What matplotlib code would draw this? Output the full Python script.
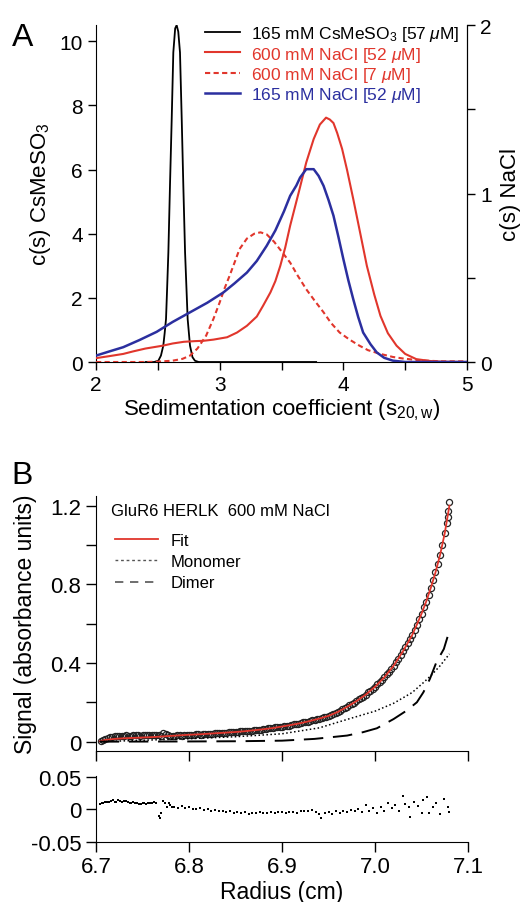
import matplotlib
matplotlib.use('Agg')
import matplotlib.pyplot as plt
from matplotlib.ticker import MultipleLocator, FixedLocator
from matplotlib.lines import Line2D

plt.rcParams['font.family'] = ['Liberation Sans', 'DejaVu Sans']
plt.rcParams['mathtext.fontset'] = 'custom'
plt.rcParams['mathtext.rm'] = 'Liberation Sans'
plt.rcParams['mathtext.it'] = 'Liberation Sans:italic'
plt.rcParams['axes.unicode_minus'] = False

# ---------------- Panel A data ----------------
# c(s) CsMeSO3 (left axis)
cs_s = [2.40, 2.47, 2.504, 2.525, 2.544, 2.555, 2.566, 2.575, 2.585, 2.598, 2.612, 2.625,
        2.64, 2.652, 2.665, 2.679, 2.693, 2.706, 2.72, 2.741, 2.76, 2.78, 2.80, 2.83, 3.0,
        3.3, 3.6, 3.78]
cs_c = [0.0, 0.0, 0.04, 0.2, 0.51, 0.9, 1.34, 2.3, 3.42, 5.49, 7.57, 9.65,
        10.4, 10.5, 10.3, 9.65, 7.57, 5.49, 3.42, 1.34, 0.51, 0.15, 0.04, 0.0, 0.0,
        0.0, 0.0, 0.0]

# c(s) NaCl (right axis)
na600_s = [2.0, 2.1, 2.22, 2.3, 2.4, 2.54, 2.62, 2.71, 2.8, 2.87, 2.95, 3.06, 3.14, 3.22,
           3.3, 3.35, 3.41, 3.45, 3.49, 3.53, 3.57, 3.64, 3.70, 3.76, 3.81, 3.86, 3.89,
           3.92, 3.95, 3.99, 4.03, 4.08, 4.14, 4.19, 4.25, 4.30, 4.36, 4.43, 4.5, 4.59,
           4.7, 4.8, 5.0]
na600_c = [0.023, 0.034, 0.048, 0.063, 0.080, 0.097, 0.110, 0.120, 0.124, 0.126, 0.133,
           0.147, 0.175, 0.215, 0.270, 0.333, 0.413, 0.480, 0.571, 0.680, 0.810, 1.010,
           1.185, 1.324, 1.410, 1.451, 1.440, 1.419, 1.360, 1.265, 1.140, 0.968, 0.752,
           0.571, 0.400, 0.274, 0.171, 0.097, 0.048, 0.017, 0.006, 0.002, 0.0]

na600lo_s = [2.0, 2.4, 2.5, 2.62, 2.7, 2.76, 2.82, 2.89, 2.95, 3.0, 3.04, 3.08, 3.12, 3.16,
             3.22, 3.28, 3.33, 3.38, 3.44, 3.5, 3.57, 3.63, 3.70, 3.77, 3.84, 3.9, 3.97,
             4.05, 4.13, 4.2, 4.3, 4.4, 4.48, 4.58, 4.67, 4.8, 5.0]
na600lo_c = [0.0, 0.0, 0.002, 0.008, 0.019, 0.038, 0.080, 0.156, 0.257, 0.354, 0.438,
             0.512, 0.590, 0.670, 0.733, 0.762, 0.770, 0.758, 0.714, 0.657, 0.590, 0.514,
             0.432, 0.362, 0.295, 0.232, 0.175, 0.133, 0.097, 0.070, 0.048, 0.030, 0.021,
             0.013, 0.008, 0.004, 0.004]

na165_s = [2.0, 2.1, 2.22, 2.35, 2.49, 2.62, 2.76, 2.9, 3.03, 3.12, 3.22, 3.3, 3.38, 3.45,
           3.52, 3.57, 3.62, 3.65, 3.70, 3.76, 3.80, 3.84, 3.88, 3.92, 3.96, 4.0, 4.04,
           4.08, 4.12, 4.16, 4.22, 4.27, 4.33, 4.40, 4.5, 5.0]
na165_c = [0.038, 0.061, 0.088, 0.130, 0.179, 0.238, 0.295, 0.352, 0.413, 0.467, 0.531,
           0.600, 0.690, 0.781, 0.895, 0.987, 1.048, 1.095, 1.145, 1.145, 1.105, 1.046,
           0.962, 0.869, 0.743, 0.611, 0.486, 0.373, 0.267, 0.175, 0.105, 0.057, 0.025,
           0.008, 0.0, 0.0]

labels_A = ['165 mM CsMeSO$_3$ [57 $\\mu$M]', '600 mM NaCl [52 $\\mu$M]',
            '600 mM NaCl [7 $\\mu$M]', '165 mM NaCl [52 $\\mu$M]']

# ---------------- Panel B data ----------------
data_r = [6.705, 6.7075, 6.710, 6.7125, 6.715, 6.7175, 6.720, 6.7225, 6.725, 6.7275, 6.730,
          6.7325, 6.735, 6.7375, 6.740, 6.7425, 6.745, 6.7475, 6.750, 6.7525, 6.755, 6.7575,
          6.760, 6.7625, 6.765, 6.7675, 6.770, 6.7725, 6.775, 6.7775, 6.780, 6.7825, 6.785,
          6.7875, 6.790, 6.7925, 6.795, 6.7975, 6.800, 6.8025, 6.805, 6.8075, 6.810, 6.8125,
          6.815, 6.8175, 6.820, 6.8225, 6.825, 6.8275, 6.830, 6.8325, 6.835, 6.8375, 6.840,
          6.8425, 6.845, 6.8475, 6.850, 6.8525, 6.855, 6.8575, 6.860, 6.8625, 6.865, 6.8675,
          6.870, 6.8725, 6.875, 6.8775, 6.880, 6.8825, 6.885, 6.8875, 6.890, 6.8925, 6.895,
          6.8975, 6.900, 6.9025, 6.905, 6.9075, 6.910, 6.9125, 6.915, 6.9175, 6.920, 6.9225,
          6.925, 6.9275, 6.930, 6.9325, 6.935, 6.9375, 6.940, 6.9425, 6.945, 6.9475, 6.950,
          6.9525, 6.955, 6.9575, 6.960, 6.9625, 6.965, 6.9675, 6.970, 6.9725, 6.975, 6.9775,
          6.980, 6.9825, 6.985, 6.9875, 6.990, 6.9925, 6.995, 6.9975, 7.000, 7.0025, 7.005,
          7.0075, 7.010, 7.0125, 7.015, 7.0175, 7.020, 7.0225, 7.025, 7.0275, 7.030, 7.0325,
          7.035, 7.0375, 7.040, 7.0425, 7.045, 7.0475, 7.050, 7.0525, 7.055, 7.0575, 7.060,
          7.0625, 7.065, 7.0675, 7.070, 7.0725, 7.075, 7.0775, 7.078, 7.079, 7.080]
data_sig = [0.004, 0.010, 0.014, 0.020, 0.024, 0.026, 0.027, 0.030, 0.029, 0.028, 0.030,
            0.032, 0.031, 0.030, 0.032, 0.033, 0.032, 0.031, 0.033, 0.035, 0.034, 0.033,
            0.035, 0.036, 0.036, 0.034, 0.028, 0.043, 0.040, 0.034, 0.030, 0.029, 0.031,
            0.034, 0.033, 0.031, 0.032, 0.036, 0.035, 0.034, 0.036, 0.038, 0.037, 0.036,
            0.038, 0.040, 0.040, 0.039, 0.041, 0.043, 0.042, 0.043, 0.045, 0.044, 0.046,
            0.048, 0.048, 0.047, 0.049, 0.051, 0.052, 0.052, 0.053, 0.056, 0.056, 0.056,
            0.058, 0.060, 0.061, 0.061, 0.063, 0.066, 0.067, 0.067, 0.069, 0.072, 0.073,
            0.074, 0.077, 0.080, 0.081, 0.082, 0.085, 0.088, 0.090, 0.091, 0.094, 0.098,
            0.100, 0.102, 0.105, 0.109, 0.111, 0.113, 0.117, 0.122, 0.124, 0.127, 0.131,
            0.137, 0.141, 0.145, 0.151, 0.158, 0.164, 0.169, 0.177, 0.185, 0.191, 0.197,
            0.206, 0.215, 0.222, 0.229, 0.239, 0.250, 0.259, 0.267, 0.279, 0.292, 0.302,
            0.313, 0.327, 0.342, 0.356, 0.369, 0.386, 0.404, 0.420, 0.438, 0.459, 0.481,
            0.500, 0.520, 0.542, 0.570, 0.595, 0.621, 0.650, 0.682, 0.712, 0.745, 0.782,
            0.822, 0.860, 0.905, 0.950, 1.000, 1.060, 1.110, 1.140, 1.170, 1.220]

fit_r = [6.704, 6.71, 6.72, 6.73, 6.74, 6.75, 6.76, 6.77, 6.78, 6.79, 6.80, 6.81, 6.82, 6.83,
         6.84, 6.85, 6.86, 6.87, 6.88, 6.89, 6.90, 6.91, 6.92, 6.93, 6.94, 6.95, 6.96, 6.97,
         6.98, 6.99, 7.00, 7.01, 7.02, 7.03, 7.04, 7.045, 7.05, 7.055, 7.06, 7.065, 7.07,
         7.075, 7.08]
fit_sig = [0.002, 0.009, 0.014, 0.017, 0.019, 0.021, 0.023, 0.026, 0.029, 0.032, 0.035, 0.037,
           0.040, 0.043, 0.046, 0.049, 0.053, 0.058, 0.063, 0.069, 0.077, 0.085, 0.094, 0.105,
           0.117, 0.131, 0.151, 0.177, 0.206, 0.239, 0.279, 0.327, 0.386, 0.459, 0.542, 0.595,
           0.650, 0.712, 0.782, 0.860, 0.950, 1.060, 1.200]

mono_r = [6.704, 6.75, 6.80, 6.85, 6.90, 6.94, 6.97, 7.00, 7.02, 7.04, 7.052, 7.06, 7.07, 7.08]
mono_sig = [0.0, 0.007, 0.015, 0.025, 0.040, 0.070, 0.113, 0.155, 0.195, 0.250, 0.300, 0.335,
            0.386, 0.446]

dimer_r = [6.704, 6.80, 6.85, 6.90, 6.935, 6.97, 6.987, 7.002, 7.02, 7.034, 7.045, 7.052,
           7.059, 7.066, 7.074, 7.08]
dimer_sig = [0.0, 0.001, 0.002, 0.005, 0.014, 0.031, 0.048, 0.068, 0.115, 0.158, 0.200, 0.251,
             0.319, 0.404, 0.471, 0.564]

resid_r = [6.704, 6.706, 6.708, 6.710, 6.712, 6.714, 6.716, 6.718, 6.720, 6.722, 6.724, 6.726,
           6.728, 6.730, 6.732, 6.734, 6.736, 6.738, 6.740, 6.742, 6.744, 6.746, 6.748, 6.750,
           6.752, 6.754, 6.756, 6.758, 6.760, 6.762, 6.764, 6.768, 6.769, 6.770, 6.772, 6.774,
           6.776, 6.778, 6.780, 6.782, 6.784, 6.788, 6.792, 6.796, 6.800, 6.804, 6.808, 6.812,
           6.816, 6.820, 6.824, 6.828, 6.832, 6.836, 6.840, 6.844, 6.848, 6.852, 6.856, 6.860,
           6.864, 6.868, 6.872, 6.876, 6.880, 6.884, 6.888, 6.892, 6.896, 6.900, 6.904, 6.908,
           6.912, 6.916, 6.920, 6.924, 6.928, 6.932, 6.936, 6.940, 6.942, 6.946, 6.950, 6.954,
           6.958, 6.962, 6.966, 6.970, 6.974, 6.978, 6.982, 6.986, 6.990, 6.994, 6.998, 7.002,
           7.006, 7.010, 7.014, 7.018, 7.022, 7.026, 7.030, 7.032, 7.036, 7.038, 7.042, 7.046,
           7.050, 7.052, 7.056, 7.058, 7.062, 7.066, 7.070, 7.074, 7.078, 7.080]
resid = [0.008, 0.009, 0.010, 0.011, 0.012, 0.012, 0.013, 0.014, 0.011, 0.012, 0.014, 0.013,
         0.012, 0.013, 0.013, 0.011, 0.010, 0.009, 0.011, 0.010, 0.009, 0.008, 0.008, 0.009,
         0.009, 0.008, 0.009, 0.010, 0.010, 0.011, 0.009, -0.010, -0.014, -0.005, 0.013, 0.009,
         0.004, 0.010, 0.007, 0.004, 0.003, 0.002, 0.005, 0.002, 0.003, 0.001, 0.000, 0.002,
         -0.001, 0.000, -0.002, -0.001, -0.003, -0.002, -0.004, -0.003, -0.005, -0.004, -0.006,
         -0.004, -0.007, -0.005, -0.006, -0.004, -0.006, -0.005, -0.004, -0.006, -0.004,
         -0.004, -0.005, -0.004, -0.004, -0.005, -0.003, -0.003, -0.002, -0.001, -0.004,
         -0.008, -0.013, -0.006, -0.004, -0.007, -0.003, -0.005, -0.002, -0.004, -0.001,
         -0.003, 0.001, -0.004, 0.006, -0.003, 0.002, -0.005, 0.004, -0.002, 0.009, 0.002,
         0.006, -0.003, 0.021, 0.008, 0.003, -0.012, 0.012, 0.005, -0.006, 0.014, 0.019,
         -0.006, 0.003, 0.010, -0.008, 0.016, 0.004, -0.004]

RED = '#e1362c'
BLUE = '#2b2f9f'

fig = plt.figure(figsize=(5.27, 9.03), dpi=100)

# ---------------- Panel A ----------------
axA = fig.add_axes([0.1822, 0.598, 0.704, 0.373])
axA2 = axA.twinx()
l1, = axA.plot(cs_s, cs_c, color='black', lw=1.3)
l2, = axA2.plot(na600_s, na600_c, color=RED, lw=1.5)
l3, = axA2.plot(na600lo_s, na600lo_c, color=RED, lw=1.5, ls=(0, (2.5, 1.6)))
l4, = axA2.plot(na165_s, na165_c, color=BLUE, lw=1.8)
axA.set_xlim(2, 5)
axA.set_ylim(0, 10.5)
axA2.set_ylim(0, 2.0)
for ax in (axA, axA2):
    ax.spines['top'].set_visible(False)
axA2.spines['left'].set_visible(False)
axA2.spines['bottom'].set_visible(False)
axA.set_xticks([2, 3, 4, 5])
axA.xaxis.set_minor_locator(MultipleLocator(0.5))
axA.set_yticks([0, 2, 4, 6, 8, 10])
axA2.set_yticks([0, 1, 2])
axA2.yaxis.set_minor_locator(MultipleLocator(0.5))
for ax in (axA, axA2):
    ax.tick_params(which='both', direction='out', length=6, width=1, labelsize=15)
axA.set_xlabel('Sedimentation coefficient (s$_{\\mathrm{20,w}}$)', fontsize=16, labelpad=2)
axA.set_ylabel('c(s) CsMeSO$_3$', fontsize=16, labelpad=5)
axA2.set_ylabel('c(s) NaCl', fontsize=16, labelpad=6)
legA = axA2.legend([l1, l2, l3, l4], labels_A, loc='upper left',
                   bbox_to_anchor=(0.295, 1.003), frameon=False, fontsize=12.5,
                   handlelength=2.0, handletextpad=0.6, labelspacing=0.08,
                   borderpad=0, borderaxespad=0)
for txt, c in zip(legA.get_texts(), ['black', RED, RED, BLUE]):
    txt.set_color(c)
fig.text(0.022, 0.975, 'A', fontsize=23, va='top', ha='left')

# ---------------- Panel B ----------------
axB = fig.add_axes([0.1822, 0.1669, 0.7059, 0.283])
axR = fig.add_axes([0.1822, 0.0668, 0.7059, 0.0731], sharex=axB)
axB.plot(data_r, data_sig, ls='none', marker='o', ms=4.4, mfc='none', mec='#222222', mew=0.9,
         zorder=2)
axB.plot(fit_r, fit_sig, color=RED, lw=1.3, zorder=3)
axB.plot(mono_r, mono_sig, color='black', lw=1.1, ls=(0, (1, 1.6)), zorder=3)
axB.plot(dimer_r, dimer_sig, color='black', lw=1.4, ls=(0, (10, 5)), zorder=3)
axB.set_xlim(6.7, 7.1)
axB.set_ylim(-0.049, 1.25)
axB.set_yticks([0, 0.4, 0.8, 1.2])
axB.set_yticklabels(['0', '0.4', '0.8', '1.2'])
axB.yaxis.set_minor_locator(FixedLocator([0.2, 0.6, 1.0]))
axB.set_xticks([6.7, 6.8, 6.9, 7.0, 7.1])
axB.tick_params(axis='x', labelbottom=False)
axB.tick_params(which='both', direction='out', length=7, width=1, labelsize=16)
for sp in ('top', 'right'):
    axB.spines[sp].set_visible(False)
axB.set_ylabel('Signal (absorbance units)', fontsize=16.5, labelpad=10)
axB.text(0.04, 0.97, 'GluR6 HERLK  600 mM NaCl', transform=axB.transAxes, fontsize=12,
         va='top', ha='left')
hF = Line2D([], [], color=RED, lw=1.3)
hM = Line2D([], [], color='#555555', lw=1.0, ls=(0, (2, 2)))
hD = Line2D([], [], color='#555555', lw=1.2, ls=(0, (5, 4)))
axB.legend([hF, hM, hD], ['Fit', 'Monomer', 'Dimer'], loc='upper left',
           bbox_to_anchor=(0.05, 0.855), frameon=False, fontsize=12, handlelength=2.6,
           handletextpad=0.75, labelspacing=0.38, borderpad=0, borderaxespad=0)

axR.plot(resid_r, resid, ls='none', marker='s', ms=1.5, color='black', mew=0)
axR.set_ylim(-0.05, 0.052)
axR.set_yticks([-0.05, 0, 0.05])
axR.set_yticklabels(['-0.05', '0', '0.05'])
axR.set_xticks([6.7, 6.8, 6.9, 7.0, 7.1])
axR.set_xticklabels(['6.7', '6.8', '6.9', '7.0', '7.1'])
axR.tick_params(which='both', direction='out', length=7, width=1, labelsize=16)
for sp in ('top', 'right'):
    axR.spines[sp].set_visible(False)
axR.set_xlabel('Radius (cm)', fontsize=16.5, labelpad=2)
fig.text(0.022, 0.49, 'B', fontsize=23, va='top', ha='left')

fig.savefig('out.png', dpi=100)
